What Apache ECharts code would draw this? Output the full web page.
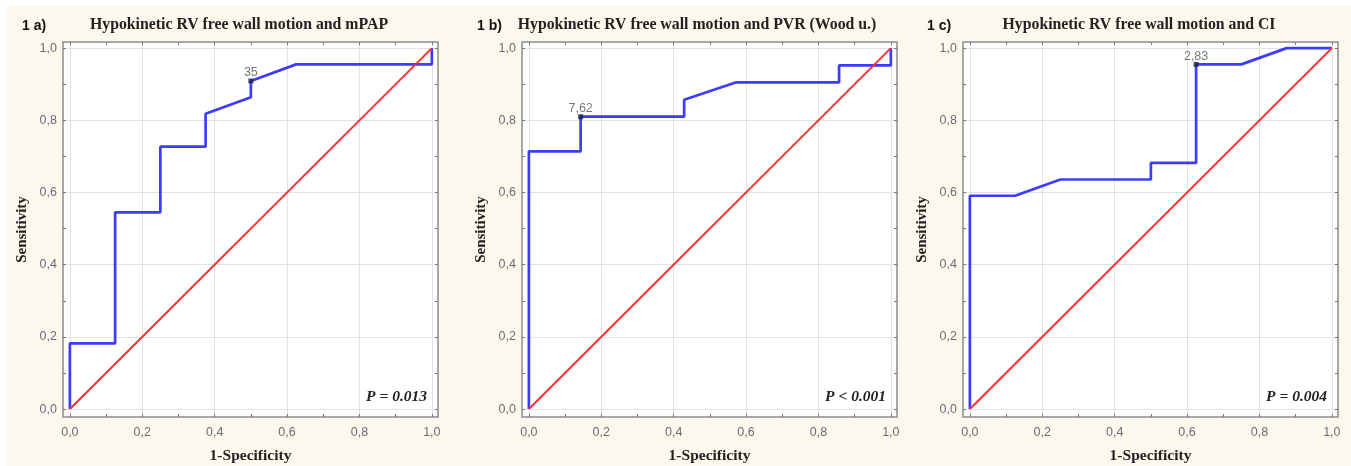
<!DOCTYPE html>
<html>
<head>
    <meta charset="utf-8">
    <title>ROC curves - hypokinetic RV free wall motion</title>
    <script src="https://cdn.jsdelivr.net/npm/echarts@6/dist/echarts.min.js"></script>
    <style>
        body { margin: 0; background: #ffffff; }
        #wrap { position: relative; width: 1351px; height: 466px; background: #ffffff; overflow: hidden; }
        #rocChart { position: absolute; left: 7px; top: 6px; width: 1344px; height: 460px; }
    </style>
</head>
<body>
    <div id="wrap"><div id="rocChart"></div></div>

    <script>
        // ROC points (1-specificity, sensitivity)
        var mpapX = [0, 0, 0.125, 0.125, 0.25, 0.25, 0.375, 0.375, 0.5, 0.5, 0.625, 1, 1];
        var mpapY = [0, 0.182, 0.182, 0.545, 0.545, 0.727, 0.727, 0.818, 0.864, 0.909, 0.955, 0.955, 1];

        var pvrX = [0, 0, 0.143, 0.143, 0.429, 0.429, 0.571, 0.857, 0.857, 1, 1];
        var pvrY = [0, 0.714, 0.714, 0.81, 0.81, 0.857, 0.905, 0.905, 0.952, 0.952, 1];

        var ciX = [0, 0, 0.125, 0.25, 0.5, 0.5, 0.625, 0.625, 0.75, 0.875, 1];
        var ciY = [0, 0.591, 0.591, 0.636, 0.636, 0.682, 0.682, 0.955, 0.955, 1, 1];

        // reference diagonal
        var diagX = [0, 1];
        var diagY = [0, 1];

        // optimal cut-off points
        var cutX = [0.5, 0.143, 0.625];
        var cutY = [0.909, 0.81, 0.955];
        var cutLabels = ['35', '7,62', '2,83'];

        var panelTags = ['1 a)', '1 b)', '1 c)'];
        var panelTitles = [
            'Hypokinetic RV free wall motion and mPAP',
            'Hypokinetic RV free wall motion and PVR (Wood u.)',
            'Hypokinetic RV free wall motion and CI'
        ];
        var pTexts = ['P = 0.013', 'P < 0.001', 'P = 0.004'];

        var majorTicks = [0, 0.2, 0.4, 0.6, 0.8, 1];
        var minorTicks = [0, 0.1, 0.2, 0.3, 0.4, 0.5, 0.6, 0.7, 0.8, 0.9, 1];

        var curvesX = [mpapX, pvrX, ciX];
        var curvesY = [mpapY, pvrY, ciY];

        // layout (page coords, chart div is offset by 7,6)
        var OX = 7, OY = 6;
        var frameLeft = [63, 522, 963];
        var frameTop = 42, frameSize = 375;
        var titleCenter = [239, 697, 1139];
        var tagLeft = [22, 477, 927];

        var serif = '"Liberation Serif", "Times New Roman", serif';
        var sans = '"Liberation Sans", Arial, sans-serif';

        function pair(xs, ys) {
            return xs.map(function (x, i) { return [x, ys[i]]; });
        }
        function fmt(v) {
            return v.toFixed(1).replace('.', ',');
        }

        var grids = [], xAxes = [], yAxes = [], series = [], graphics = [];

        for (var i = 0; i < 3; i++) {
            grids.push({
                left: frameLeft[i] - OX, top: frameTop - OY,
                width: frameSize, height: frameSize,
                outerBoundsMode: 'none',
                show: true, backgroundColor: '#ffffff',
                borderColor: '#8c8c8c', borderWidth: 1.5
            });

            var xBase = { gridIndex: i, type: 'value', min: -0.019, max: 1.017 };
            var yBase = { gridIndex: i, type: 'value', min: -0.022, max: 1.017 };

            // main x axis: labels + grid lines
            xAxes.push(Object.assign({}, xBase, {
                position: 'bottom',
                axisLine: { show: false, onZero: false },
                axisTick: { show: false, customValues: majorTicks },
                axisLabel: { customValues: majorTicks, formatter: fmt, color: '#6a6b78', fontSize: 12.5, fontFamily: sans, margin: 9 },
                splitLine: { show: true, lineStyle: { color: '#e2e2e2', width: 1 } },
                name: '1-Specificity', nameLocation: 'middle', nameGap: 31,
                nameTextStyle: { fontFamily: serif, fontWeight: 'bold', fontSize: 15.5, color: '#222' }
            }));
            // tick-only axes on bottom and top
            ['bottom', 'top'].forEach(function (pos) {
                xAxes.push(Object.assign({}, xBase, {
                    position: pos,
                    axisLine: { show: false, onZero: false },
                    axisTick: { show: true, inside: true, length: 3, customValues: minorTicks, lineStyle: { color: '#777' } },
                    axisLabel: { show: false },
                    splitLine: { show: false }
                }));
            });

            yAxes.push(Object.assign({}, yBase, {
                position: 'left',
                axisLine: { show: false, onZero: false },
                axisTick: { show: false, customValues: majorTicks },
                axisLabel: { customValues: majorTicks, formatter: fmt, color: '#6a6b78', fontSize: 12.5, fontFamily: sans, margin: 6 },
                splitLine: { show: true, lineStyle: { color: '#e2e2e2', width: 1 } },
                name: 'Sensitivity', nameLocation: 'middle', nameGap: 33,
                nameTextStyle: { fontFamily: serif, fontWeight: 'bold', fontSize: 15, color: '#222' }
            }));
            ['left', 'right'].forEach(function (pos) {
                yAxes.push(Object.assign({}, yBase, {
                    position: pos,
                    axisLine: { show: false, onZero: false },
                    axisTick: { show: true, inside: true, length: 3, customValues: minorTicks, lineStyle: { color: '#777' } },
                    axisLabel: { show: false },
                    splitLine: { show: false }
                }));
            });

            series.push({
                type: 'line',
                xAxisIndex: i * 3, yAxisIndex: i * 3,
                data: pair(curvesX[i], curvesY[i]),
                symbol: 'none',
                lineStyle: { color: '#3c3cff', width: 2.7 },
                z: 3
            });
            series.push({
                type: 'line',
                xAxisIndex: i * 3, yAxisIndex: i * 3,
                data: pair(diagX, diagY),
                symbol: 'none',
                lineStyle: { color: '#ff3030', width: 2 },
                z: 4
            });
            series.push({
                type: 'scatter',
                xAxisIndex: i * 3, yAxisIndex: i * 3,
                data: [[cutX[i], cutY[i]]],
                symbol: 'rect', symbolSize: 5,
                itemStyle: { color: '#1c1f4a' },
                label: {
                    show: true, position: 'top', distance: -1,
                    formatter: cutLabels[i],
                    color: '#555', fontSize: 12.5, fontFamily: sans
                },
                z: 5
            });

            graphics.push({
                type: 'text', x: tagLeft[i] - OX, y: 26 - OY,
                style: { text: panelTags[i], font: 'bold 14px ' + sans, fill: '#111', align: 'left', verticalAlign: 'middle' }
            });
            graphics.push({
                type: 'text', x: titleCenter[i] - OX, y: 25 - OY,
                style: { text: panelTitles[i], font: 'bold 15.8px ' + serif, fill: '#222', align: 'center', verticalAlign: 'middle' }
            });
            graphics.push({
                type: 'text', x: frameLeft[i] + frameSize - 11 - OX, y: 397 - OY,
                z: 10,
                style: { text: pTexts[i], font: 'italic bold 15.5px ' + serif, fill: '#222', align: 'right', verticalAlign: 'middle' }
            });
        }

        var rocChart = echarts.init(document.getElementById('rocChart'));
        rocChart.setOption({
            backgroundColor: '#fdf8ee',
            animation: false,
            grid: grids,
            xAxis: xAxes,
            yAxis: yAxes,
            series: series,
            graphic: graphics
        });
    </script>
</body>
</html>
